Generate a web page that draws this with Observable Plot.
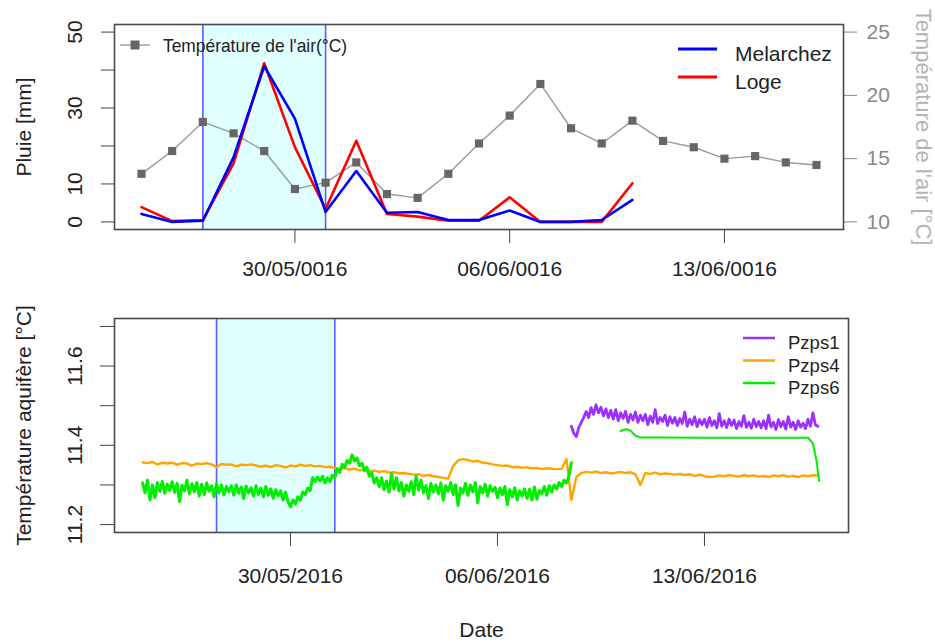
<!DOCTYPE html>
<html><head><meta charset="utf-8">
<script src="https://cdn.jsdelivr.net/npm/d3@7"></script>
<script src="https://cdn.jsdelivr.net/npm/@observablehq/plot@0.6"></script>
<style>
body{margin:0;background:#fff;}
#wrap{position:relative;width:935px;height:643px;overflow:hidden;background:#fff;font-family:"Liberation Sans",Arial,sans-serif;}
.layer{position:absolute;left:0;}
</style></head><body><div id="wrap"></div>
<script>
// ---------- DATA ----------
const rainDates = ["2016-05-25","2016-05-26","2016-05-27","2016-05-28","2016-05-29","2016-05-30","2016-05-31","2016-06-01","2016-06-02","2016-06-03","2016-06-04","2016-06-05","2016-06-06","2016-06-07","2016-06-08","2016-06-09","2016-06-10"];
const rainMelarchez = [2.1, 0, 0.3, 17, 41, 27.2, 2.6, 13.4, 2.4, 2.6, 0.5, 0.5, 3.0, 0, 0, 0.5, 5.8];
const rainLoge      = [3.9, 0.2, 0.5, 15.4, 41.8, 19.7, 3.4, 21.4, 2.1, 1.4, 0.3, 0.3, 6.5, 0, 0, 0, 10.2];

const airTempDates = ["2016-05-25","2016-05-26","2016-05-27","2016-05-28","2016-05-29","2016-05-30","2016-05-31","2016-06-01","2016-06-02","2016-06-03","2016-06-04","2016-06-05","2016-06-06","2016-06-07","2016-06-08","2016-06-09","2016-06-10","2016-06-11","2016-06-12","2016-06-13","2016-06-14","2016-06-15","2016-06-16"];
const airTemp = [13.8, 15.6, 17.9, 17.0, 15.6, 12.6, 13.1, 14.7, 12.2, 11.9, 13.8, 16.2, 18.4, 20.9, 17.4, 16.2, 18.0, 16.4, 15.9, 15.0, 15.2, 14.7, 14.5];

const dateTicks = ["2016-05-30","2016-06-06","2016-06-13"];
const topTickLabels = ["30/05/0016","06/06/0016","13/06/0016"];
const bottomTickLabels = ["30/05/2016","06/06/2016","13/06/2016"];
const rainTicks = [0,10,20,30,40,50];
const rainTickLabels = [0,10,30,50];
const airTempTicks = [10,15,20,25];
const aquiferTicks = [11.2,11.3,11.4,11.5,11.6,11.7];
const aquiferTickLabels = ["11.2","11.4","11.6"];

const eventTop = ["2016-05-27T00:00Z","2016-05-31T00:00Z"];
const eventBottom = ["2016-05-27T12:00Z","2016-05-31T12:00Z"];

// aquifer temperatures: regular readings (start, step in hours, values)
const pzps4Start = "2016-05-25T00:00Z";
const pzps4StepHours = 4;
const pzps4 = [
 11.357,11.355,11.358,11.352,11.356,11.354,
 11.356,11.351,11.355,11.354,11.349,11.354,
 11.353,11.355,11.352,11.345,11.353,11.351,
 11.352,11.347,11.351,11.350,11.352,11.349,
 11.346,11.349,11.345,11.350,11.348,11.344,
 11.349,11.347,11.351,11.348,11.350,11.347,
 11.348,11.345,11.346,11.343,11.341,11.342,
 11.339,11.341,11.337,11.338,11.335,11.336,
 11.333,11.335,11.331,11.332,11.329,11.330,
 11.328,11.326,11.327,11.323,11.325,11.322,
 11.320,11.318,11.316,11.347,11.362,11.365,
 11.363,11.359,11.361,11.356,11.355,11.352,
 11.350,11.348,11.349,11.345,11.346,11.343,
 11.345,11.342,11.343,11.340,11.342,11.341,
 11.340,11.341,11.365,11.262,11.320,11.330,
 11.333,11.331,11.334,11.330,11.332,11.329,
 11.331,11.333,11.330,11.332,11.327,11.300,
 11.330,11.328,11.331,11.327,11.329,11.328,
 11.326,11.328,11.325,11.327,11.323,11.326,
 11.322,11.320,11.321,11.324,11.322,11.325,
 11.323,11.321,11.325,11.322,11.324,11.321,
 11.323,11.320,11.324,11.322,11.325,11.321,
 11.323,11.320,11.324,11.322,11.325,11.324];
const pzps6Start = "2016-05-25T00:00Z";
const pzps6StepHours = 2;
const pzps6 = [
 11.305,11.280,11.312,11.262,11.300,11.268,11.306,11.284,11.309,11.279,11.302,11.286,
 11.308,11.281,11.304,11.258,11.299,11.285,11.312,11.278,11.303,11.283,11.306,11.272,
 11.302,11.276,11.305,11.284,11.298,11.270,11.304,11.280,11.300,11.275,11.296,11.283,
 11.298,11.274,11.300,11.279,11.295,11.266,11.297,11.280,11.293,11.272,11.298,11.276,
 11.292,11.270,11.296,11.274,11.290,11.266,11.288,11.273,11.285,11.262,11.282,11.258,
 11.245,11.262,11.252,11.270,11.262,11.282,11.275,11.292,11.286,11.318,11.308,11.320,
 11.310,11.322,11.305,11.318,11.308,11.325,11.318,11.340,11.332,11.352,11.345,11.362,
 11.355,11.376,11.360,11.368,11.348,11.355,11.336,11.345,11.322,11.330,11.305,11.318,
 11.296,11.318,11.288,11.310,11.282,11.328,11.290,11.318,11.285,11.306,11.272,11.300,
 11.284,11.308,11.276,11.322,11.287,11.312,11.280,11.298,11.266,11.304,11.282,11.300,
 11.278,11.305,11.262,11.298,11.284,11.306,11.276,11.300,11.248,11.292,11.280,11.304,
 11.274,11.300,11.282,11.306,11.255,11.296,11.280,11.302,11.272,11.298,11.284,11.294,
 11.268,11.292,11.275,11.296,11.250,11.288,11.270,11.293,11.262,11.285,11.272,11.290,
 11.266,11.289,11.262,11.295,11.264,11.286,11.278,11.296,11.274,11.298,11.282,11.300,
 11.290,11.306,11.296,11.312,11.305,11.322,11.356];
const pzps6LateDates = ["2016-06-10T04:00Z","2016-06-10T08:00Z","2016-06-10T12:00Z","2016-06-10T16:00Z","2016-06-10T20:00Z","2016-06-11T12:00Z","2016-06-13T00:00Z","2016-06-15T00:00Z","2016-06-16T12:00Z","2016-06-16T16:00Z","2016-06-16T19:00Z","2016-06-16T21:00Z"];
const pzps6Late = [11.436,11.441,11.437,11.424,11.420,11.420,11.419,11.419,11.419,11.405,11.360,11.310];
const pzps1Start = "2016-06-08T12:00Z";
const pzps1StepHours = 2;
const pzps1 = [
 11.448,11.430,11.422,11.445,11.458,11.470,
 11.485,11.470,11.495,11.478,11.502,11.482,11.496,11.474,11.492,11.470,11.488,11.466,
 11.490,11.462,11.482,11.468,11.486,11.458,11.478,11.464,11.484,11.458,11.476,11.462,
 11.478,11.452,11.474,11.458,11.490,11.455,11.470,11.460,11.476,11.450,11.472,11.456,
 11.470,11.450,11.468,11.455,11.484,11.448,11.466,11.452,11.472,11.447,11.465,11.452,
 11.466,11.446,11.470,11.450,11.462,11.444,11.480,11.448,11.462,11.445,11.466,11.450,
 11.464,11.442,11.460,11.448,11.475,11.445,11.458,11.443,11.466,11.447,11.460,11.444,
 11.462,11.442,11.476,11.446,11.458,11.440,11.465,11.447,11.460,11.441,11.472,11.446,
 11.458,11.440,11.462,11.446,11.456,11.442,11.466,11.448,11.482,11.452,11.448];

// ---------- BUILD ----------
const D = s => new Date(s);
const series = (start, step, vals) => vals.map((v, i) => ({date: new Date(+D(start) + i * step * 3600e3), v}));
const rainM = rainDates.map((d, i) => ({date: D(d), v: rainMelarchez[i]}));
const rainL = rainDates.map((d, i) => ({date: D(d), v: rainLoge[i]}));
const air = airTempDates.map((d, i) => ({date: D(d), t: airTemp[i]}));
const tempToRain = d3.scaleLinear([10, 25], [0, 50]);
const ticksD = dateTicks.map(D);
const font = "'Liberation Sans', Arial, sans-serif";
const ink = "#222", axisInk = "#444";
const shadeFill = "#e0ffff", eventStroke = "#5a5aff";

const topPlot = Plot.plot({
  width: 935, height: 300,
  marginLeft: 114, marginRight: 92, marginTop: 24, marginBottom: 71,
  x: {type: "utc", domain: [D("2016-05-24T02:53Z"), D("2016-06-16T21:07Z")]},
  y: {domain: [-2, 52]},
  style: {fontFamily: font, background: "transparent", color: ink},
  marks: [
    Plot.rect([{a: D(eventTop[0]), b: D(eventTop[1])}], {x1: "a", x2: "b", fill: shadeFill}),
    Plot.ruleX(eventTop.map(D), {stroke: eventStroke, strokeWidth: 1.6}),
    Plot.line(air, {x: "date", y: d => tempToRain(d.t), stroke: "#9a9a9a", strokeWidth: 1.4}),
    Plot.dot(air, {x: "date", y: d => tempToRain(d.t), symbol: "square", fill: "#666", r: 4.6}),
    Plot.line(rainL, {x: "date", y: "v", stroke: "#ff0000", strokeWidth: 2.6}),
    Plot.line(rainM, {x: "date", y: "v", stroke: "#0000ff", strokeWidth: 2.6}),
    Plot.axisX(ticksD, {tickSize: 14, tickPadding: 18, fontSize: 21, stroke: axisInk, fill: ink, label: null,
      tickFormat: d => topTickLabels[ticksD.findIndex(t => +t === +d)]}),
    Plot.axisY(rainTicks, {tickSize: 13, tickFormat: () => "", stroke: axisInk, label: null}),
    Plot.text(rainTickLabels, {y: d => d, text: d => String(d), frameAnchor: "left", dx: -39, rotate: -90, textAnchor: "middle", lineAnchor: "middle", fontSize: 21, fill: ink}),
    Plot.axisY(airTempTicks.map(t => tempToRain(t)), {anchor: "right", tickSize: 13, tickPadding: 10, fontSize: 21, stroke: "#888", fill: "#888", label: null,
      tickFormat: v => String(Math.round(tempToRain.invert(v)))}),
    Plot.text(["Pluie [mm]"], {frameAnchor: "left", dx: -90, rotate: -90, textAnchor: "middle", lineAnchor: "middle", fontSize: 21, fill: ink}),
    Plot.text(["Température de l'air [°C]"], {frameAnchor: "right", dx: 80, rotate: 90, textAnchor: "middle", lineAnchor: "middle", fontSize: 22, fill: "#b4b4b4"}),
    Plot.frame({stroke: "#4a4a4a", strokeWidth: 1.6})
  ]
});

const bottomPlot = Plot.plot({
  width: 935, height: 343,
  marginLeft: 114, marginRight: 87, marginTop: 18, marginBottom: 111,
  x: {type: "utc", domain: [D("2016-05-24T01:12Z"), D("2016-06-17T20:53Z")]},
  y: {domain: [11.18, 11.72]},
  style: {fontFamily: font, background: "transparent", color: ink},
  marks: [
    Plot.rect([{a: D(eventBottom[0]), b: D(eventBottom[1])}], {x1: "a", x2: "b", fill: shadeFill}),
    Plot.ruleX(eventBottom.map(D), {stroke: eventStroke, strokeWidth: 1.6}),
    Plot.line(series(pzps1Start, pzps1StepHours, pzps1), {x: "date", y: "v", stroke: "#9b30ff", strokeWidth: 2.8}),
    Plot.line(series(pzps4Start, pzps4StepHours, pzps4), {x: "date", y: "v", stroke: "#ffa500", strokeWidth: 2.4}),
    Plot.line(series(pzps6Start, pzps6StepHours, pzps6), {x: "date", y: "v", stroke: "#00ee00", strokeWidth: 3}),
    Plot.line(pzps6LateDates.map((d, i) => ({date: D(d), v: pzps6Late[i]})), {x: "date", y: "v", stroke: "#00ee00", strokeWidth: 2}),
    Plot.axisX(ticksD, {tickSize: 14, tickPadding: 22, fontSize: 21, stroke: axisInk, fill: ink, label: null,
      tickFormat: d => bottomTickLabels[ticksD.findIndex(t => +t === +d)]}),
    Plot.axisY(aquiferTicks, {tickSize: 14, tickFormat: () => "", stroke: axisInk, label: null}),
    Plot.text(aquiferTickLabels, {y: d => +d, text: d => d, frameAnchor: "left", dx: -39, rotate: -90, textAnchor: "middle", lineAnchor: "middle", fontSize: 21, fill: ink}),
    Plot.text(["Température aquifère [°C]"], {frameAnchor: "left", dx: -90, rotate: -90, textAnchor: "middle", lineAnchor: "middle", fontSize: 21, fill: ink}),
    Plot.text(["Date"], {frameAnchor: "bottom", dy: 104, fontSize: 21, fill: ink}),
    Plot.frame({stroke: "#4a4a4a", strokeWidth: 1.6})
  ]
});

const wrap = document.getElementById("wrap");
topPlot.classList.add("layer"); topPlot.style.top = "0px";
bottomPlot.classList.add("layer"); bottomPlot.style.top = "300px";
wrap.appendChild(topPlot);
wrap.appendChild(bottomPlot);

// ---------- LEGENDS (overlay) ----------
const ns = "http://www.w3.org/2000/svg";
const ov = document.createElementNS(ns, "svg");
ov.setAttribute("width", 935); ov.setAttribute("height", 643);
ov.setAttribute("class", "layer"); ov.style.top = "0px";
ov.style.fontFamily = font;
function el(tag, attrs, text) {
  const e = document.createElementNS(ns, tag);
  for (const k in attrs) e.setAttribute(k, attrs[k]);
  if (text != null) e.textContent = text;
  ov.appendChild(e); return e;
}
el("line", {x1: 120, x2: 150, y1: 45, y2: 45, stroke: "#9a9a9a", "stroke-width": 1.4});
el("rect", {x: 130.5, y: 40.5, width: 9, height: 9, fill: "#666"});
el("text", {x: 163, y: 52, "font-size": 19, fill: ink, textLength: 184, lengthAdjust: "spacingAndGlyphs"}, "Température de l'air(°C)");
const rainLegend = [["Melarchez", "#0000ff"], ["Loge", "#ff0000"]];
rainLegend.forEach(([name, c], i) => {
  const y = 49 + i * 28;
  el("line", {x1: 678, x2: 717, y1: y, y2: y, stroke: c, "stroke-width": 3});
  el("text", {x: 735, y: y + 12, "font-size": 21, fill: ink}, name);
});
const aqLegend = [["Pzps1", "#9b30ff"], ["Pzps4", "#ffa500"], ["Pzps6", "#00ee00"]];
aqLegend.forEach(([name, c], i) => {
  const y = 338 + i * 22.5;
  el("line", {x1: 743, x2: 775, y1: y, y2: y, stroke: c, "stroke-width": 2.5});
  el("text", {x: 788, y: y + 11, "font-size": 18.5, fill: ink}, name);
});
wrap.appendChild(ov);
</script></body></html>
